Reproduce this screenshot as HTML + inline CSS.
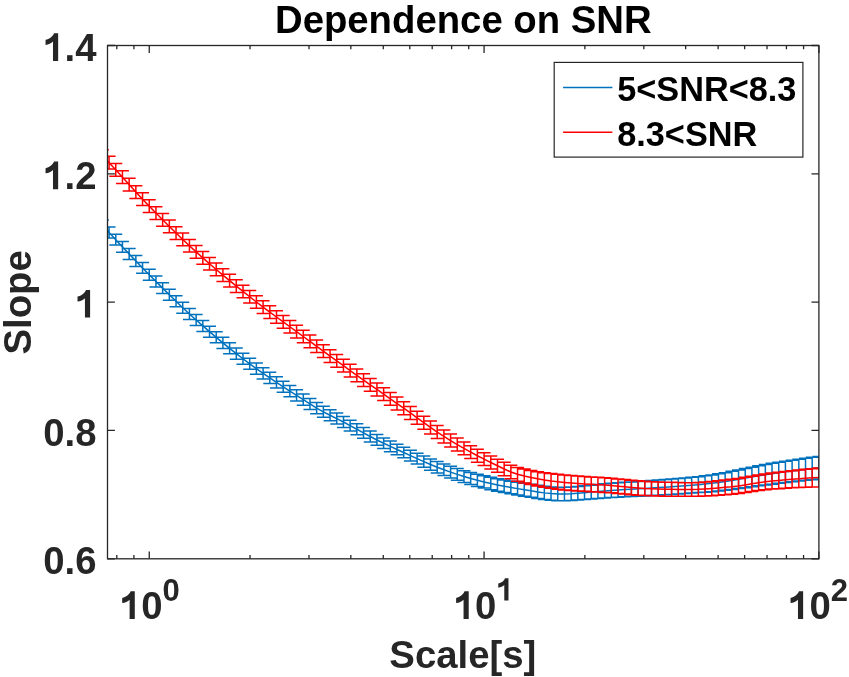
<!DOCTYPE html>
<html><head><meta charset="utf-8"><style>
html,body{margin:0;padding:0;background:#fff;}
body{width:849px;height:677px;overflow:hidden;}
svg{display:block;will-change:transform;}
text{font-family:"Liberation Sans",sans-serif;font-weight:bold;}
</style></head><body>
<svg width="849" height="677" viewBox="0 0 849 677">
<rect x="0" y="0" width="849" height="677" fill="#fff"/>
<defs><clipPath id="ax"><rect x="107.5" y="45.5" width="711.4" height="513.3"/></clipPath></defs>
<g clip-path="url(#ax)" fill="none" stroke-width="1.5">
<path d="M102.37,219.93V230.73M95.87,219.93H108.87M95.87,230.73H108.87M109.07,227.08V237.90M102.57,227.08H115.57M102.57,237.90H115.57M115.77,234.29V245.12M109.27,234.29H122.27M109.27,245.12H122.27M122.46,241.46V252.31M115.96,241.46H128.96M115.96,252.31H128.96M129.16,248.53V259.39M122.66,248.53H135.66M122.66,259.39H135.66M135.86,255.55V266.42M129.36,255.55H142.36M129.36,266.42H142.36M142.55,262.49V273.37M136.05,262.49H149.05M136.05,273.37H149.05M149.25,269.30V280.20M142.75,269.30H155.75M142.75,280.20H155.75M155.95,276.01V286.92M149.45,276.01H162.45M149.45,286.92H162.45M162.64,282.69V293.62M156.14,282.69H169.14M156.14,293.62H169.14M169.34,289.31V300.25M162.84,289.31H175.84M162.84,300.25H175.84M176.04,295.84V306.79M169.54,295.84H182.54M169.54,306.79H182.54M182.73,302.24V313.21M176.23,302.24H189.23M176.23,313.21H189.23M189.43,308.48V319.46M182.93,308.48H195.93M182.93,319.46H195.93M196.13,314.52V325.51M189.63,314.52H202.63M189.63,325.51H202.63M202.82,320.39V331.40M196.32,320.39H209.32M196.32,331.40H209.32M209.52,326.17V337.19M203.02,326.17H216.02M203.02,337.19H216.02M216.21,331.83V342.86M209.71,331.83H222.71M209.71,342.86H222.71M222.91,337.37V348.42M216.41,337.37H229.41M216.41,348.42H229.41M229.61,342.79V353.85M223.11,342.79H236.11M223.11,353.85H236.11M236.30,348.07V359.15M229.80,348.07H242.80M229.80,359.15H242.80M243.00,353.22V364.31M236.50,353.22H249.50M236.50,364.31H249.50M249.70,358.23V369.33M243.20,358.23H256.20M243.20,369.33H256.20M256.39,363.08V374.19M249.89,363.08H262.89M249.89,374.19H262.89M263.09,367.77V378.90M256.59,367.77H269.59M256.59,378.90H269.59M269.79,372.34V383.48M263.29,372.34H276.29M263.29,383.48H276.29M276.48,376.80V387.95M269.98,376.80H282.98M269.98,387.95H282.98M283.18,381.18V392.35M276.68,381.18H289.68M276.68,392.35H289.68M289.88,385.51V396.69M283.38,385.51H296.38M283.38,396.69H296.38M296.57,389.81V401.00M290.07,389.81H303.07M290.07,401.00H303.07M303.27,394.11V405.29M296.77,394.11H309.77M296.77,405.29H309.77M309.97,398.41V409.55M303.47,398.41H316.47M303.47,409.55H316.47M316.66,402.53V413.63M310.16,402.53H323.16M310.16,413.63H323.16M323.36,406.30V417.36M316.86,406.30H329.86M316.86,417.36H329.86M330.06,409.75V420.77M323.56,409.75H336.56M323.56,420.77H336.56M336.75,413.09V424.07M330.25,413.09H343.25M330.25,424.07H343.25M343.45,416.55V427.49M336.95,416.55H349.95M336.95,427.49H349.95M350.14,420.15V431.05M343.64,420.15H356.64M343.64,431.05H356.64M356.84,423.82V434.68M350.34,423.82H363.34M350.34,434.68H363.34M363.54,427.49V438.31M357.04,427.49H370.04M357.04,438.31H370.04M370.23,431.10V441.88M363.73,431.10H376.73M363.73,441.88H376.73M376.93,434.60V445.34M370.43,434.60H383.43M370.43,445.34H383.43M383.63,437.91V448.61M377.13,437.91H390.13M377.13,448.61H390.13M390.32,441.07V451.73M383.82,441.07H396.82M383.82,451.73H396.82M397.02,444.14V454.76M390.52,444.14H403.52M390.52,454.76H403.52M403.72,447.16V457.83M397.22,447.16H410.22M397.22,457.83H410.22M410.41,450.17V460.98M403.91,450.17H416.91M403.91,460.98H416.91M417.11,453.18V464.12M410.61,453.18H423.61M410.61,464.12H423.61M423.81,456.12V467.20M417.31,456.12H430.31M417.31,467.20H430.31M430.50,458.94V470.15M424.00,458.94H437.00M424.00,470.15H437.00M437.20,461.57V472.91M430.70,461.57H443.70M430.70,472.91H443.70M443.90,463.99V475.47M437.40,463.99H450.40M437.40,475.47H450.40M450.59,466.32V477.93M444.09,466.32H457.09M444.09,477.93H457.09M457.29,468.54V480.28M450.79,468.54H463.79M450.79,480.28H463.79M463.99,470.63V482.49M457.49,470.63H470.49M457.49,482.49H470.49M470.68,472.56V484.54M464.18,472.56H477.18M464.18,484.54H477.18M477.38,474.29V486.40M470.88,474.29H483.88M470.88,486.40H483.88M484.07,475.86V488.09M477.57,475.86H490.57M477.57,488.09H490.57M490.77,477.33V489.68M484.27,477.33H497.27M484.27,489.68H497.27M497.47,478.70V491.17M490.97,478.70H503.97M490.97,491.17H503.97M504.16,479.96V492.57M497.66,479.96H510.66M497.66,492.57H510.66M510.86,481.14V493.84M504.36,481.14H517.36M504.36,493.84H517.36M517.56,482.22V495.02M511.06,482.22H524.06M511.06,495.02H524.06M524.25,483.23V496.13M517.75,483.23H530.75M517.75,496.13H530.75M530.95,484.31V497.31M524.45,484.31H537.45M524.45,497.31H537.45M537.65,485.37V498.46M531.15,485.37H544.15M531.15,498.46H544.15M544.34,486.28V499.47M537.84,486.28H550.84M537.84,499.47H550.84M551.04,486.96V500.24M544.54,486.96H557.54M544.54,500.24H557.54M557.74,487.28V500.66M551.24,487.28H564.24M551.24,500.66H564.24M564.43,487.20V500.69M557.93,487.20H570.93M557.93,500.69H570.93M571.13,486.89V500.47M564.63,486.89H577.63M564.63,500.47H577.63M577.83,486.41V500.09M571.33,486.41H584.33M571.33,500.09H584.33M584.52,485.81V499.58M578.02,485.81H591.02M578.02,499.58H591.02M591.22,485.15V499.02M584.72,485.15H597.72M584.72,499.02H597.72M597.92,484.48V498.45M591.42,484.48H604.42M591.42,498.45H604.42M604.61,483.84V497.94M598.11,483.84H611.11M598.11,497.94H611.11M611.31,483.30V497.53M604.81,483.30H617.81M604.81,497.53H617.81M618.00,482.82V497.18M611.50,482.82H624.50M611.50,497.18H624.50M624.70,482.36V496.86M618.20,482.36H631.20M618.20,496.86H631.20M631.40,481.91V496.54M624.90,481.91H637.90M624.90,496.54H637.90M638.09,481.47V496.23M631.59,481.47H644.59M631.59,496.23H644.59M644.79,481.01V495.91M638.29,481.01H651.29M638.29,495.91H651.29M651.49,480.54V495.57M644.99,480.54H657.99M644.99,495.57H657.99M658.18,480.04V495.20M651.68,480.04H664.68M651.68,495.20H664.68M664.88,479.52V494.81M658.38,479.52H671.38M658.38,494.81H671.38M671.58,478.99V494.42M665.08,478.99H678.08M665.08,494.42H678.08M678.27,478.45V494.01M671.77,478.45H684.77M671.77,494.01H684.77M684.97,477.88V493.58M678.47,477.88H691.47M678.47,493.58H691.47M691.67,477.28V493.12M685.17,477.28H698.17M685.17,493.12H698.17M698.36,476.64V492.61M691.86,476.64H704.86M691.86,492.61H704.86M705.06,475.83V492.18M698.56,475.83H711.56M698.56,492.18H711.56M711.76,474.91V491.71M705.26,474.91H718.26M705.26,491.71H718.26M718.45,473.84V491.11M711.95,473.84H724.95M711.95,491.11H724.95M725.15,472.64V490.36M718.65,472.64H731.65M718.65,490.36H731.65M731.85,471.33V489.52M725.35,471.33H738.35M725.35,489.52H738.35M738.54,469.96V488.60M732.04,469.96H745.04M732.04,488.60H745.04M745.24,468.54V487.65M738.74,468.54H751.74M738.74,487.65H751.74M751.93,467.13V486.69M745.43,467.13H758.43M745.43,486.69H758.43M758.63,465.76V485.78M752.13,465.76H765.13M752.13,485.78H765.13M765.33,464.45V484.93M758.83,464.45H771.83M758.83,484.93H771.83M772.02,463.28V484.15M765.52,463.28H778.52M765.52,484.15H778.52M778.72,462.23V483.35M772.22,462.23H785.22M772.22,483.35H785.22M785.42,461.20V482.56M778.92,461.20H791.92M778.92,482.56H791.92M792.11,460.19V481.80M785.61,460.19H798.61M785.61,481.80H798.61M798.81,459.21V481.07M792.31,459.21H805.31M792.31,481.07H805.31M805.51,458.25V480.36M799.01,458.25H812.01M799.01,480.36H812.01M812.20,457.32V479.67M805.70,457.32H818.70M805.70,479.67H818.70M818.90,456.41V479.01M812.40,456.41H825.40M812.40,479.01H825.40" stroke="#0072BD"/>
<path d="M102.37,225.33 L109.07,232.49 L115.77,239.70 L122.46,246.89 L129.16,253.96 L135.86,260.99 L142.55,267.93 L149.25,274.75 L155.95,281.46 L162.64,288.15 L169.34,294.78 L176.04,301.32 L182.73,307.72 L189.43,313.97 L196.13,320.01 L202.82,325.90 L209.52,331.68 L216.21,337.34 L222.91,342.89 L229.61,348.32 L236.30,353.61 L243.00,358.77 L249.70,363.78 L256.39,368.63 L263.09,373.33 L269.79,377.91 L276.48,382.38 L283.18,386.77 L289.88,391.10 L296.57,395.40 L303.27,399.70 L309.97,403.98 L316.66,408.08 L323.36,411.83 L330.06,415.26 L336.75,418.58 L343.45,422.02 L350.14,425.60 L356.84,429.25 L363.54,432.90 L370.23,436.49 L376.93,439.97 L383.63,443.26 L390.32,446.40 L397.02,449.45 L403.72,452.49 L410.41,455.58 L417.11,458.65 L423.81,461.66 L430.50,464.54 L437.20,467.24 L443.90,469.73 L450.59,472.12 L457.29,474.41 L463.99,476.56 L470.68,478.55 L477.38,480.34 L484.07,481.97 L490.77,483.50 L497.47,484.94 L504.16,486.27 L510.86,487.49 L517.56,488.62 L524.25,489.68 L530.95,490.81 L537.65,491.91 L544.34,492.88 L551.04,493.60 L557.74,493.97 L564.43,493.95 L571.13,493.68 L577.83,493.25 L584.52,492.70 L591.22,492.08 L597.92,491.46 L604.61,490.89 L611.31,490.42 L618.00,490.00 L624.70,489.61 L631.40,489.23 L638.09,488.85 L644.79,488.46 L651.49,488.06 L658.18,487.62 L664.88,487.17 L671.58,486.70 L678.27,486.23 L684.97,485.73 L691.67,485.20 L698.36,484.63 L705.06,484.00 L711.76,483.31 L718.45,482.48 L725.15,481.50 L731.85,480.42 L738.54,479.28 L745.24,478.09 L751.93,476.91 L758.63,475.77 L765.33,474.69 L772.02,473.71 L778.72,472.79 L785.42,471.88 L792.11,471.00 L798.81,470.14 L805.51,469.31 L812.20,468.50 L818.90,467.71" stroke="#0072BD"/>
<path d="M102.37,149.67V162.47M95.87,149.67H108.87M95.87,162.47H108.87M109.07,156.31V169.10M102.57,156.31H115.57M102.57,169.10H115.57M115.77,163.40V176.18M109.27,163.40H122.27M109.27,176.18H122.27M122.46,170.75V183.53M115.96,170.75H128.96M115.96,183.53H128.96M129.16,178.22V190.99M122.66,178.22H135.66M122.66,190.99H135.66M135.86,185.64V198.40M129.36,185.64H142.36M129.36,198.40H142.36M142.55,192.86V205.62M136.05,192.86H149.05M136.05,205.62H149.05M149.25,199.80V212.55M142.75,199.80H155.75M142.75,212.55H155.75M155.95,206.65V219.39M149.45,206.65H162.45M149.45,219.39H162.45M162.64,213.42V226.15M156.14,213.42H169.14M156.14,226.15H169.14M169.34,220.10V232.83M162.84,220.10H175.84M162.84,232.83H175.84M176.04,226.66V239.39M169.54,226.66H182.54M169.54,239.39H182.54M182.73,233.10V245.82M176.23,233.10H189.23M176.23,245.82H189.23M189.43,239.40V252.11M182.93,239.40H195.93M182.93,252.11H195.93M196.13,245.53V258.24M189.63,245.53H202.63M189.63,258.24H202.63M202.82,251.52V264.22M196.32,251.52H209.32M196.32,264.22H209.32M209.52,257.38V270.07M203.02,257.38H216.02M203.02,270.07H216.02M216.21,263.12V275.81M209.71,263.12H222.71M209.71,275.81H222.71M222.91,268.76V281.44M216.41,268.76H229.41M216.41,281.44H229.41M229.61,274.30V286.97M223.11,274.30H236.11M223.11,286.97H236.11M236.30,279.76V292.42M229.80,279.76H242.80M229.80,292.42H242.80M243.00,285.13V297.79M236.50,285.13H249.50M236.50,297.79H249.50M249.70,290.44V303.09M243.20,290.44H256.20M243.20,303.09H256.20M256.39,295.65V308.29M249.89,295.65H262.89M249.89,308.29H262.89M263.09,300.74V313.38M256.59,300.74H269.59M256.59,313.38H269.59M269.79,305.75V318.38M263.29,305.75H276.29M263.29,318.38H276.29M276.48,310.68V323.31M269.98,310.68H282.98M269.98,323.31H282.98M283.18,315.57V328.19M276.68,315.57H289.68M276.68,328.19H289.68M289.88,320.44V333.05M283.38,320.44H296.38M283.38,333.05H296.38M296.57,325.31V337.91M290.07,325.31H303.07M290.07,337.91H303.07M303.27,330.19V342.80M296.77,330.19H309.77M296.77,342.80H309.77M309.97,335.09V347.71M303.47,335.09H316.47M303.47,347.71H316.47M316.66,339.97V352.62M310.16,339.97H323.16M310.16,352.62H323.16M323.36,344.84V357.50M316.86,344.84H329.86M316.86,357.50H329.86M330.06,349.69V362.38M323.56,349.69H336.56M323.56,362.38H336.56M336.75,354.53V367.23M330.25,354.53H343.25M330.25,367.23H343.25M343.45,359.35V372.07M336.95,359.35H349.95M336.95,372.07H349.95M350.14,364.15V376.89M343.64,364.15H356.64M343.64,376.89H356.64M356.84,368.92V381.68M350.34,368.92H363.34M350.34,381.68H363.34M363.54,373.66V386.44M357.04,373.66H370.04M357.04,386.44H370.04M370.23,378.38V391.17M363.73,378.38H376.73M363.73,391.17H376.73M376.93,383.07V395.88M370.43,383.07H383.43M370.43,395.88H383.43M383.63,387.74V400.57M377.13,387.74H390.13M377.13,400.57H390.13M390.32,392.41V405.26M383.82,392.41H396.82M383.82,405.26H396.82M397.02,397.08V409.95M390.52,397.08H403.52M390.52,409.95H403.52M403.72,401.76V414.64M397.22,401.76H410.22M397.22,414.64H410.22M410.41,406.51V419.41M403.91,406.51H416.91M403.91,419.41H416.91M417.11,411.35V424.27M410.61,411.35H423.61M410.61,424.27H423.61M423.81,416.19V429.14M417.31,416.19H430.31M417.31,429.14H430.31M430.50,420.96V433.92M424.00,420.96H437.00M424.00,433.92H437.00M437.20,425.56V438.54M430.70,425.56H443.70M430.70,438.54H443.70M443.90,429.91V442.91M437.40,429.91H450.40M437.40,442.91H450.40M450.59,434.04V447.02M444.09,434.04H457.09M444.09,447.02H457.09M457.29,438.06V451.00M450.79,438.06H463.79M450.79,451.00H463.79M463.99,441.95V454.86M457.49,441.95H470.49M457.49,454.86H470.49M470.68,445.70V458.59M464.18,445.70H477.18M464.18,458.59H477.18M477.38,449.32V462.18M470.88,449.32H483.88M470.88,462.18H483.88M484.07,452.79V465.62M477.57,452.79H490.57M477.57,465.62H490.57M490.77,456.09V468.89M484.27,456.09H497.27M484.27,468.89H497.27M497.47,459.24V472.27M490.97,459.24H503.97M490.97,472.27H503.97M504.16,462.36V475.63M497.66,462.36H510.66M497.66,475.63H510.66M510.86,465.19V478.69M504.36,465.19H517.36M504.36,478.69H517.36M517.56,467.45V481.19M511.06,467.45H524.06M511.06,481.19H524.06M524.25,469.06V483.03M517.75,469.06H530.75M517.75,483.03H530.75M530.95,470.45V484.62M524.45,470.45H537.45M524.45,484.62H537.45M537.65,471.66V486.02M531.15,471.66H544.15M531.15,486.02H544.15M544.34,472.70V487.26M537.84,472.70H550.84M537.84,487.26H550.84M551.04,473.58V488.32M544.54,473.58H557.54M544.54,488.32H557.54M557.74,474.29V489.23M551.24,474.29H564.24M551.24,489.23H564.24M564.43,474.94V489.91M557.93,474.94H570.93M557.93,489.91H570.93M571.13,475.53V490.43M564.63,475.53H577.63M564.63,490.43H577.63M577.83,476.04V490.88M571.33,476.04H584.33M571.33,490.88H584.33M584.52,476.50V491.28M578.02,476.50H591.02M578.02,491.28H591.02M591.22,476.93V491.65M584.72,476.93H597.72M584.72,491.65H597.72M597.92,477.36V492.02M591.42,477.36H604.42M591.42,492.02H604.42M604.61,477.82V492.42M598.11,477.82H611.11M598.11,492.42H611.11M611.31,478.33V492.87M604.81,478.33H617.81M604.81,492.87H617.81M618.00,478.93V493.42M611.50,478.93H624.50M611.50,493.42H624.50M624.70,479.60V494.02M618.20,479.60H631.20M618.20,494.02H631.20M631.40,480.26V494.63M624.90,480.26H637.90M624.90,494.63H637.90M638.09,480.86V495.17M631.59,480.86H644.59M631.59,495.17H644.59M644.79,481.35V495.59M638.29,481.35H651.29M638.29,495.59H651.29M651.49,481.66V495.84M644.99,481.66H657.99M644.99,495.84H657.99M658.18,481.91V495.99M651.68,481.91H664.68M651.68,495.99H664.68M664.88,482.15V496.13M658.38,482.15H671.38M658.38,496.13H671.38M671.58,482.36V496.23M665.08,482.36H678.08M665.08,496.23H678.08M678.27,482.52V496.30M671.77,482.52H684.77M671.77,496.30H684.77M684.97,482.65V496.32M678.47,482.65H691.47M678.47,496.32H691.47M691.67,482.67V496.32M685.17,482.67H698.17M685.17,496.32H698.17M698.36,482.40V496.25M691.86,482.40H704.86M691.86,496.25H704.86M705.06,481.96V496.01M698.56,481.96H711.56M698.56,496.01H711.56M711.76,481.38V495.63M705.26,481.38H718.26M705.26,495.63H718.26M718.45,480.72V495.17M711.95,480.72H724.95M711.95,495.17H724.95M725.15,480.01V494.67M718.65,480.01H731.65M718.65,494.67H731.65M731.85,479.30V494.15M725.35,479.30H738.35M725.35,494.15H738.35M738.54,478.40V493.44M732.04,478.40H745.04M732.04,493.44H745.04M745.24,477.32V492.53M738.74,477.32H751.74M738.74,492.53H751.74M751.93,476.14V491.55M745.43,476.14H758.43M745.43,491.55H758.43M758.63,474.99V490.58M752.13,474.99H765.13M752.13,490.58H765.13M765.33,473.95V489.72M758.83,473.95H771.83M758.83,489.72H771.83M772.02,473.09V489.11M765.52,473.09H778.52M765.52,489.11H778.52M778.72,472.23V488.65M772.22,472.23H785.22M772.22,488.65H785.22M785.42,471.42V488.23M778.92,471.42H791.92M778.92,488.23H791.92M792.11,470.64V487.85M785.61,470.64H798.61M785.61,487.85H798.61M798.81,469.91V487.51M792.31,469.91H805.31M792.31,487.51H805.31M805.51,469.24V487.24M799.01,469.24H812.01M799.01,487.24H812.01M812.20,468.64V487.03M805.70,468.64H818.70M805.70,487.03H818.70M818.90,468.11V486.90M812.40,468.11H825.40M812.40,486.90H825.40" stroke="#FF0000"/>
<path d="M102.37,156.07 L109.07,162.71 L115.77,169.79 L122.46,177.14 L129.16,184.60 L135.86,192.02 L142.55,199.24 L149.25,206.17 L155.95,213.02 L162.64,219.79 L169.34,226.46 L176.04,233.02 L182.73,239.46 L189.43,245.75 L196.13,251.88 L202.82,257.87 L209.52,263.72 L216.21,269.47 L222.91,275.10 L229.61,280.64 L236.30,286.09 L243.00,291.46 L249.70,296.76 L256.39,301.97 L263.09,307.06 L269.79,312.06 L276.48,316.99 L283.18,321.88 L289.88,326.74 L296.57,331.61 L303.27,336.50 L309.97,341.40 L316.66,346.29 L323.36,351.17 L330.06,356.04 L336.75,360.88 L343.45,365.71 L350.14,370.52 L356.84,375.30 L363.54,380.05 L370.23,384.77 L376.93,389.47 L383.63,394.16 L390.32,398.84 L397.02,403.51 L403.72,408.20 L410.41,412.96 L417.11,417.81 L423.81,422.67 L430.50,427.44 L437.20,432.05 L443.90,436.41 L450.59,440.53 L457.29,444.53 L463.99,448.41 L470.68,452.15 L477.38,455.75 L484.07,459.20 L490.77,462.49 L497.47,465.76 L504.16,468.99 L510.86,471.94 L517.56,474.32 L524.25,476.04 L530.95,477.53 L537.65,478.84 L544.34,479.98 L551.04,480.95 L557.74,481.76 L564.43,482.42 L571.13,482.98 L577.83,483.46 L584.52,483.89 L591.22,484.29 L597.92,484.69 L604.61,485.12 L611.31,485.60 L618.00,486.18 L624.70,486.81 L631.40,487.44 L638.09,488.02 L644.79,488.47 L651.49,488.75 L658.18,488.95 L664.88,489.14 L671.58,489.29 L678.27,489.41 L684.97,489.48 L691.67,489.49 L698.36,489.33 L705.06,488.99 L711.76,488.51 L718.45,487.94 L725.15,487.34 L731.85,486.72 L738.54,485.92 L745.24,484.92 L751.93,483.85 L758.63,482.78 L765.33,481.84 L772.02,481.10 L778.72,480.44 L785.42,479.82 L792.11,479.24 L798.81,478.71 L805.51,478.24 L812.20,477.83 L818.90,477.50" stroke="#FF0000"/>
</g>
<path d="M149.25,558.8V551.4M149.25,45.5V52.9M484.07,558.8V551.4M484.07,45.5V52.9M818.90,558.8V551.4M818.90,45.5V52.9M116.80,558.8V555.0M116.80,45.5V49.3M133.93,558.8V555.0M133.93,45.5V49.3M250.04,558.8V555.0M250.04,45.5V49.3M309.00,558.8V555.0M309.00,45.5V49.3M350.83,558.8V555.0M350.83,45.5V49.3M383.28,558.8V555.0M383.28,45.5V49.3M409.79,558.8V555.0M409.79,45.5V49.3M432.21,558.8V555.0M432.21,45.5V49.3M451.63,558.8V555.0M451.63,45.5V49.3M468.75,558.8V555.0M468.75,45.5V49.3M584.87,558.8V555.0M584.87,45.5V49.3M643.83,558.8V555.0M643.83,45.5V49.3M685.66,558.8V555.0M685.66,45.5V49.3M718.11,558.8V555.0M718.11,45.5V49.3M744.62,558.8V555.0M744.62,45.5V49.3M767.03,558.8V555.0M767.03,45.5V49.3M786.45,558.8V555.0M786.45,45.5V49.3M803.58,558.8V555.0M803.58,45.5V49.3M107.5,558.80H114.9M818.9,558.80H811.5M107.5,430.47H114.9M818.9,430.47H811.5M107.5,302.15H114.9M818.9,302.15H811.5M107.5,173.83H114.9M818.9,173.83H811.5M107.5,45.50H114.9M818.9,45.50H811.5" stroke="#262626" stroke-width="1.3" fill="none"/>
<rect x="107.5" y="45.5" width="711.4" height="513.3" fill="none" stroke="#262626" stroke-width="1.3"/>
<g fill="#262626" font-size="38.3">
<text x="43.26" y="574.20" font-size="38.3">0.6</text>
<text x="43.26" y="445.87" font-size="38.3">0.8</text>
<path d="M254,0L389,0L389,-722L280,-722C250,-640 160,-570 60,-550L60,-418C140,-428 205,-455 254,-505Z" transform="translate(75.21,317.55) scale(0.03830)" fill="#262626"/>
<path d="M254,0L389,0L389,-722L280,-722C250,-640 160,-570 60,-550L60,-418C140,-428 205,-455 254,-505Z" transform="translate(43.26,189.23) scale(0.03830)" fill="#262626"/><text x="64.56" y="189.23" font-size="38.3">.2</text>
<path d="M254,0L389,0L389,-722L280,-722C250,-640 160,-570 60,-550L60,-418C140,-428 205,-455 254,-505Z" transform="translate(43.26,60.90) scale(0.03830)" fill="#262626"/><text x="64.56" y="60.90" font-size="38.3">.4</text>
<path d="M254,0L389,0L389,-722L280,-722C250,-640 160,-570 60,-550L60,-418C140,-428 205,-455 254,-505Z" transform="translate(119.89,619.00) scale(0.03830)" fill="#262626"/><text x="141.19" y="619.00" font-size="38.3">0</text><text x="162.48" y="600.60" font-size="31.0">0</text>
<path d="M254,0L389,0L389,-722L280,-722C250,-640 160,-570 60,-550L60,-418C140,-428 205,-455 254,-505Z" transform="translate(453.82,619.00) scale(0.03830)" fill="#262626"/><text x="475.11" y="619.00" font-size="38.3">0</text><path d="M254,0L389,0L389,-722L280,-722C250,-640 160,-570 60,-550L60,-418C140,-428 205,-455 254,-505Z" transform="translate(496.41,600.60) scale(0.03100)" fill="#262626"/>
<path d="M254,0L389,0L389,-722L280,-722C250,-640 160,-570 60,-550L60,-418C140,-428 205,-455 254,-505Z" transform="translate(788.24,619.00) scale(0.03830)" fill="#262626"/><text x="809.54" y="619.00" font-size="38.3">0</text><text x="830.83" y="600.60" font-size="31.0">2</text>
<text x="462.8" y="668" text-anchor="middle">Scale[s]</text>
<text transform="translate(30.7,302.4) rotate(-90)" text-anchor="middle">Slope</text>
</g>
<text x="463.3" y="32.6" text-anchor="middle" font-size="38.3" fill="#000">Dependence on SNR</text>
<rect x="554.2" y="62.4" width="248.7" height="94.7" fill="#fff" stroke="#262626" stroke-width="1.2"/>
<path d="M563.1,87.5H612.4" stroke="#0072BD" stroke-width="1.4"/>
<path d="M563.1,132.3H612.4" stroke="#FF0000" stroke-width="1.4"/>
<g font-size="34.3" fill="#000">
<text x="617.2" y="101.1">5&lt;SNR&lt;8.3</text>
<text x="617.2" y="145.8">8.3&lt;SNR</text>
</g>
</svg>
</body></html>
